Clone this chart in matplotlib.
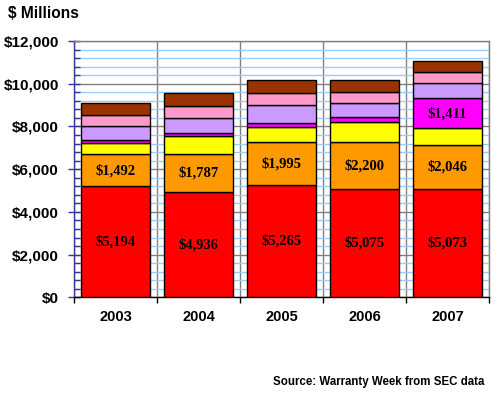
import matplotlib
matplotlib.use('Agg')
import matplotlib.pyplot as plt
import numpy as np
from matplotlib.ticker import MultipleLocator, FuncFormatter

years = ['2003', '2004', '2005', '2006', '2007']
red = [5194, 4936, 5265, 5075, 5073]
orange = [1492, 1787, 1995, 2200, 2046]
yellow = [550, 814, 700, 920, 790]
magenta = [110, 141, 190, 230, 1411]
lavender = [650, 702, 840, 650, 690]
pink = [560, 590, 590, 550, 530]
brown = [560, 581, 580, 530, 540]

# only these segments carry a value label
labelled = {'red': red, 'orange': orange, 'magenta': [None, None, None, None, 1411]}

series = [('red', red, '#ff0000'), ('orange', orange, '#ff9900'),
          ('yellow', yellow, '#ffff00'), ('magenta', magenta, '#ff00ff'),
          ('lavender', lavender, '#cc99ff'), ('pink', pink, '#ff99cc'),
          ('brown', brown, '#993300')]


def main():
    fig = plt.figure(figsize=(5, 3.95), dpi=100)
    ax = fig.add_axes([0.148, 0.2473, 0.83, 0.649])
    x = np.arange(len(years))
    bottom = np.zeros(len(years))
    for name, vals, col in series:
        vals = np.array(vals, dtype=float)
        ax.bar(x, vals, 0.83, bottom=bottom, color=col, edgecolor='black',
               linewidth=1.0, zorder=3)
        if name in labelled:
            for i, v in enumerate(labelled[name]):
                if v is None:
                    continue
                ax.text(x[i], bottom[i] + vals[i] / 2, '${:,}'.format(v),
                        ha='center', va='center', fontsize=10.5,
                        fontweight='bold', family='Liberation Serif', zorder=4)
        bottom += vals

    ax.set_xlim(-0.5, 4.5)
    ax.set_ylim(0, 12000)

    # y axis
    ax.yaxis.set_major_locator(MultipleLocator(2000))
    ax.yaxis.set_minor_locator(MultipleLocator(400))
    ax.yaxis.set_major_formatter(FuncFormatter(lambda v, p: '${:,.0f}'.format(v)))
    ax.tick_params(axis='y', which='major', direction='inout', length=8,
                   width=1, color='#333399', pad=7)
    ax.tick_params(axis='y', which='minor', direction='in', length=4,
                   width=1, color='#333399')
    ax.grid(axis='y', which='minor', color='#99ccff', lw=1, zorder=0)
    ax.grid(axis='y', which='major', color='#808080', lw=1, zorder=1)

    # x axis: labels in the middle, ticks on the boundaries
    ax.set_xticks(x)
    ax.set_xticklabels(years)
    ax.set_xticks(np.arange(-0.5, 5, 1), minor=True)
    ax.tick_params(axis='x', which='major', length=0, pad=9)
    ax.tick_params(axis='x', which='minor', direction='out', length=4,
                   width=1, color='black')
    ax.grid(axis='x', which='minor', color='#808080', lw=1, zorder=1)
    ax.set_axisbelow(True)

    for lab in ax.get_yticklabels():
        lab.set_fontsize(11)
        lab.set_fontweight('bold')
        lab.set_family('Liberation Sans')
    for lab in ax.get_xticklabels():
        lab.set_fontsize(10.5)
        lab.set_fontweight('bold')
        lab.set_family('Liberation Sans')

    ax.spines['left'].set_color('#333399')
    ax.spines['bottom'].set_color('black')
    ax.spines['top'].set_color('#808080')
    ax.spines['right'].set_color('#808080')
    for s in ax.spines.values():
        s.set_linewidth(1)

    fig.text(8 / 500, 1 - 14 / 395, '$ Millions', ha='left', va='center',
             fontsize=11.2, fontweight='bold', family='Liberation Sans')
    fig.text(484 / 500, 1 - 381.5 / 395, 'Source: Warranty Week from SEC data',
             ha='right', va='center', fontsize=8.3, fontweight='bold',
             family='Liberation Sans')

    fig.savefig('out.png', dpi=100)


if __name__ == '__main__':
    main()
